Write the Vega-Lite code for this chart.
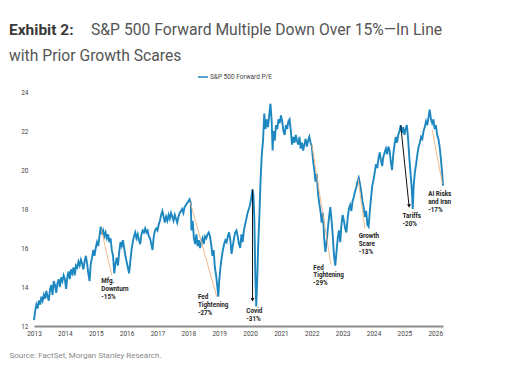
{
  "$schema": "https://vega.github.io/schema/vega-lite/v6.json",
  "width": 409,
  "height": 234,
  "autosize": {"type": "none"},
  "padding": {"left": 34, "top": 92, "right": 77, "bottom": 62},
  "background": "white",
  "config": {"view": {"stroke": null}, "font": "Roboto", "axis": {"labelOverlap": false, "labelFlush": false}},
  "title": {
    "text": "Exhibit 2:",
    "subtitle": ["\u2800\u00a0\u00a0\u00a0\u00a0\u00a0\u00a0\u00a0\u00a0\u00a0\u00a0\u00a0\u00a0\u00a0\u00a0\u00a0\u00a0\u00a0\u00a0S&P 500 Forward Multiple Down Over 15%\u2014In Line", "with Prior Growth Scares"],
    "anchor": "start",
    "frame": "group",
    "dx": -25,
    "offset": 6,
    "font": "Roboto",
    "fontSize": 15.5,
    "fontWeight": "bold",
    "color": "#3a3a3a",
    "subtitleFont": "Roboto",
    "subtitleFontSize": 15.7,
    "subtitleFontWeight": "normal",
    "subtitleColor": "#555555",
    "subtitleLineHeight": 26,
    "subtitlePadding": -15.5
  },
  "datasets": {
    "pe": [
      {"t":2013.00,"v":12.3},{"t":2013.04,"v":12.8},{"t":2013.08,"v":13.1},{"t":2013.12,"v":12.9},{"t":2013.16,"v":13.3},{"t":2013.20,"v":13.1},{"t":2013.24,"v":13.5},{"t":2013.28,"v":13.3},{"t":2013.32,"v":13.6},{"t":2013.36,"v":13.4},{"t":2013.40,"v":13.8},{"t":2013.44,"v":13.5},{"t":2013.48,"v":13.3},{"t":2013.52,"v":13.9},{"t":2013.56,"v":14.1},{"t":2013.60,"v":13.6},{"t":2013.64,"v":14.3},{"t":2013.68,"v":14.1},{"t":2013.72,"v":13.7},{"t":2013.76,"v":14.2},{"t":2013.80,"v":14.4},{"t":2013.84,"v":14.0},{"t":2013.88,"v":14.5},{"t":2013.92,"v":14.3},{"t":2013.96,"v":14.6},
      {"t":2014.00,"v":14.4},{"t":2014.04,"v":13.9},{"t":2014.08,"v":14.5},{"t":2014.12,"v":14.8},{"t":2014.16,"v":14.4},{"t":2014.20,"v":14.9},{"t":2014.24,"v":14.7},{"t":2014.28,"v":15.0},{"t":2014.32,"v":14.6},{"t":2014.36,"v":15.1},{"t":2014.40,"v":15.0},{"t":2014.44,"v":15.3},{"t":2014.48,"v":15.1},{"t":2014.52,"v":15.4},{"t":2014.56,"v":15.2},{"t":2014.60,"v":14.9},{"t":2014.64,"v":15.3},{"t":2014.68,"v":15.6},{"t":2014.72,"v":15.2},{"t":2014.76,"v":14.7},{"t":2014.80,"v":14.3},{"t":2014.84,"v":15.2},{"t":2014.88,"v":15.5},{"t":2014.92,"v":15.9},{"t":2014.96,"v":15.6},
      {"t":2015.00,"v":16.0},{"t":2015.04,"v":16.3},{"t":2015.08,"v":16.1},{"t":2015.12,"v":16.6},{"t":2015.16,"v":17.1},{"t":2015.20,"v":16.7},{"t":2015.24,"v":16.9},{"t":2015.28,"v":16.6},{"t":2015.32,"v":16.8},{"t":2015.36,"v":16.5},{"t":2015.40,"v":16.7},{"t":2015.44,"v":16.3},{"t":2015.48,"v":16.5},{"t":2015.52,"v":15.9},{"t":2015.56,"v":15.6},{"t":2015.60,"v":14.7},{"t":2015.64,"v":15.2},{"t":2015.68,"v":15.5},{"t":2015.72,"v":15.1},{"t":2015.76,"v":15.8},{"t":2015.80,"v":16.3},{"t":2015.84,"v":16.1},{"t":2015.88,"v":16.4},{"t":2015.92,"v":16.0},{"t":2015.96,"v":15.6},
      {"t":2016.00,"v":15.3},{"t":2016.04,"v":15.0},{"t":2016.08,"v":14.7},{"t":2016.12,"v":15.3},{"t":2016.16,"v":15.9},{"t":2016.20,"v":16.3},{"t":2016.24,"v":16.6},{"t":2016.28,"v":16.8},{"t":2016.32,"v":16.5},{"t":2016.36,"v":16.7},{"t":2016.40,"v":16.4},{"t":2016.44,"v":16.2},{"t":2016.48,"v":16.7},{"t":2016.52,"v":16.9},{"t":2016.56,"v":16.8},{"t":2016.60,"v":17.0},{"t":2016.64,"v":16.8},{"t":2016.68,"v":16.9},{"t":2016.72,"v":16.6},{"t":2016.76,"v":16.5},{"t":2016.80,"v":16.2},{"t":2016.84,"v":15.9},{"t":2016.88,"v":16.6},{"t":2016.92,"v":16.9},{"t":2016.96,"v":17.0},
      {"t":2017.00,"v":16.9},{"t":2017.04,"v":17.2},{"t":2017.08,"v":17.4},{"t":2017.12,"v":17.7},{"t":2017.16,"v":17.9},{"t":2017.20,"v":17.6},{"t":2017.24,"v":17.3},{"t":2017.28,"v":17.6},{"t":2017.32,"v":17.4},{"t":2017.36,"v":17.7},{"t":2017.40,"v":17.5},{"t":2017.44,"v":17.8},{"t":2017.48,"v":17.6},{"t":2017.52,"v":17.4},{"t":2017.56,"v":17.7},{"t":2017.60,"v":17.5},{"t":2017.64,"v":17.3},{"t":2017.68,"v":17.6},{"t":2017.72,"v":17.8},{"t":2017.76,"v":17.9},{"t":2017.80,"v":18.0},{"t":2017.84,"v":17.8},{"t":2017.88,"v":18.1},{"t":2017.92,"v":18.2},{"t":2017.96,"v":18.3},
      {"t":2018.00,"v":18.4},{"t":2018.04,"v":18.5},{"t":2018.08,"v":18.3},{"t":2018.10,"v":16.9},{"t":2018.14,"v":17.4},{"t":2018.18,"v":16.5},{"t":2018.22,"v":16.2},{"t":2018.26,"v":16.7},{"t":2018.30,"v":16.1},{"t":2018.34,"v":16.4},{"t":2018.38,"v":16.0},{"t":2018.42,"v":16.3},{"t":2018.46,"v":16.5},{"t":2018.50,"v":16.2},{"t":2018.54,"v":16.6},{"t":2018.58,"v":16.5},{"t":2018.62,"v":16.7},{"t":2018.66,"v":16.8},{"t":2018.70,"v":16.6},{"t":2018.74,"v":16.2},{"t":2018.78,"v":15.6},{"t":2018.82,"v":15.9},{"t":2018.86,"v":15.0},{"t":2018.90,"v":14.6},{"t":2018.94,"v":14.0},{"t":2018.97,"v":13.5},
      {"t":2019.00,"v":14.3},{"t":2019.04,"v":15.0},{"t":2019.08,"v":15.5},{"t":2019.12,"v":15.9},{"t":2019.16,"v":16.2},{"t":2019.20,"v":16.4},{"t":2019.24,"v":16.3},{"t":2019.28,"v":16.6},{"t":2019.32,"v":16.8},{"t":2019.36,"v":16.4},{"t":2019.40,"v":15.7},{"t":2019.44,"v":16.1},{"t":2019.48,"v":16.5},{"t":2019.52,"v":16.8},{"t":2019.56,"v":16.9},{"t":2019.60,"v":16.6},{"t":2019.64,"v":16.2},{"t":2019.68,"v":16.0},{"t":2019.72,"v":16.7},{"t":2019.76,"v":16.3},{"t":2019.80,"v":16.9},{"t":2019.84,"v":17.2},{"t":2019.88,"v":17.5},{"t":2019.92,"v":17.8},{"t":2019.96,"v":18.0},
      {"t":2020.00,"v":18.2},{"t":2020.04,"v":18.6},{"t":2020.08,"v":19.0},{"t":2020.11,"v":18.7},{"t":2020.14,"v":17.4},{"t":2020.17,"v":14.5},{"t":2020.20,"v":13.0},{"t":2020.23,"v":14.3},{"t":2020.26,"v":16.0},{"t":2020.30,"v":17.6},{"t":2020.34,"v":19.5},{"t":2020.38,"v":20.8},{"t":2020.42,"v":21.5},{"t":2020.46,"v":22.9},{"t":2020.50,"v":22.1},{"t":2020.54,"v":22.6},{"t":2020.58,"v":22.2},{"t":2020.62,"v":22.8},{"t":2020.66,"v":23.4},{"t":2020.70,"v":22.5},{"t":2020.73,"v":21.0},{"t":2020.76,"v":22.0},{"t":2020.80,"v":21.5},{"t":2020.84,"v":22.3},{"t":2020.88,"v":22.1},{"t":2020.92,"v":22.6},{"t":2020.96,"v":22.4},
      {"t":2021.00,"v":22.8},{"t":2021.04,"v":22.5},{"t":2021.08,"v":22.0},{"t":2021.12,"v":21.8},{"t":2021.16,"v":22.3},{"t":2021.20,"v":22.1},{"t":2021.24,"v":22.5},{"t":2021.28,"v":22.6},{"t":2021.32,"v":22.0},{"t":2021.36,"v":21.3},{"t":2021.40,"v":21.7},{"t":2021.44,"v":21.4},{"t":2021.48,"v":21.8},{"t":2021.52,"v":21.5},{"t":2021.56,"v":21.3},{"t":2021.60,"v":21.7},{"t":2021.64,"v":21.1},{"t":2021.68,"v":21.4},{"t":2021.72,"v":21.0},{"t":2021.76,"v":21.3},{"t":2021.80,"v":21.6},{"t":2021.84,"v":21.2},{"t":2021.88,"v":21.5},{"t":2021.92,"v":21.7},{"t":2021.96,"v":21.4},
      {"t":2022.00,"v":21.2},{"t":2022.04,"v":20.5},{"t":2022.08,"v":20.0},{"t":2022.12,"v":19.4},{"t":2022.16,"v":19.8},{"t":2022.20,"v":18.8},{"t":2022.24,"v":18.3},{"t":2022.28,"v":17.9},{"t":2022.32,"v":17.3},{"t":2022.36,"v":17.8},{"t":2022.40,"v":16.5},{"t":2022.44,"v":15.8},{"t":2022.48,"v":16.3},{"t":2022.52,"v":17.0},{"t":2022.56,"v":17.6},{"t":2022.60,"v":18.1},{"t":2022.64,"v":17.4},{"t":2022.68,"v":16.6},{"t":2022.72,"v":15.6},{"t":2022.76,"v":15.1},{"t":2022.80,"v":15.8},{"t":2022.84,"v":16.5},{"t":2022.88,"v":16.9},{"t":2022.92,"v":16.3},{"t":2022.96,"v":17.2},
      {"t":2023.00,"v":17.7},{"t":2023.04,"v":17.4},{"t":2023.08,"v":17.0},{"t":2023.12,"v":16.8},{"t":2023.16,"v":17.5},{"t":2023.20,"v":18.0},{"t":2023.24,"v":18.2},{"t":2023.28,"v":17.9},{"t":2023.32,"v":18.4},{"t":2023.36,"v":18.6},{"t":2023.40,"v":18.9},{"t":2023.44,"v":19.1},{"t":2023.48,"v":19.4},{"t":2023.52,"v":19.6},{"t":2023.56,"v":19.3},{"t":2023.60,"v":18.9},{"t":2023.64,"v":18.4},{"t":2023.68,"v":18.1},{"t":2023.72,"v":17.6},{"t":2023.76,"v":17.9},{"t":2023.80,"v":17.2},{"t":2023.84,"v":17.1},{"t":2023.88,"v":17.9},{"t":2023.92,"v":18.6},{"t":2023.96,"v":19.2},
      {"t":2024.00,"v":19.5},{"t":2024.04,"v":19.9},{"t":2024.08,"v":20.3},{"t":2024.12,"v":20.1},{"t":2024.16,"v":20.6},{"t":2024.20,"v":20.9},{"t":2024.24,"v":20.5},{"t":2024.28,"v":20.2},{"t":2024.32,"v":20.7},{"t":2024.36,"v":20.9},{"t":2024.40,"v":21.1},{"t":2024.44,"v":20.8},{"t":2024.48,"v":21.2},{"t":2024.52,"v":21.0},{"t":2024.56,"v":20.4},{"t":2024.60,"v":20.0},{"t":2024.64,"v":20.8},{"t":2024.68,"v":21.3},{"t":2024.72,"v":21.7},{"t":2024.76,"v":21.4},{"t":2024.80,"v":21.8},{"t":2024.84,"v":22.0},{"t":2024.88,"v":22.3},{"t":2024.92,"v":21.9},{"t":2024.96,"v":22.2},
      {"t":2025.00,"v":21.8},{"t":2025.04,"v":22.1},{"t":2025.08,"v":22.3},{"t":2025.12,"v":21.6},{"t":2025.16,"v":20.6},{"t":2025.20,"v":19.8},{"t":2025.24,"v":19.0},{"t":2025.27,"v":18.0},{"t":2025.30,"v":19.2},{"t":2025.34,"v":19.9},{"t":2025.38,"v":20.3},{"t":2025.42,"v":20.8},{"t":2025.46,"v":21.2},{"t":2025.50,"v":21.4},{"t":2025.54,"v":21.7},{"t":2025.58,"v":21.6},{"t":2025.62,"v":22.0},{"t":2025.66,"v":22.2},{"t":2025.70,"v":22.5},{"t":2025.74,"v":22.3},{"t":2025.78,"v":22.7},{"t":2025.82,"v":23.1},{"t":2025.86,"v":22.6},{"t":2025.90,"v":22.4},{"t":2025.94,"v":22.6},{"t":2025.98,"v":22.1},
      {"t":2026.02,"v":22.3},{"t":2026.06,"v":21.8},{"t":2026.10,"v":21.6},{"t":2026.14,"v":21.2},{"t":2026.18,"v":20.6},{"t":2026.22,"v":19.9},{"t":2026.25,"v":19.2}
    ],
    "drops": [
      {"t":2015.18,"v":16.95,"t2":2015.52,"v2":14.6},
      {"t":2018.06,"v":18.35,"t2":2018.92,"v2":13.5},
      {"t":2022.00,"v":21.3,"t2":2022.62,"v2":15.15},
      {"t":2023.50,"v":19.55,"t2":2023.72,"v2":17.0},
      {"t":2025.90,"v":22.05,"t2":2026.23,"v2":19.3}
    ],
    "arrows": [
      {"t":2020.08,"v":19.0,"t2":2020.08,"v2":13.35},
      {"t":2024.88,"v":22.3,"t2":2025.15,"v2":18.15}
    ],
    "labels": [
      {"t":2015.18,"v":14.46,"label":"Mfg.\nDownturn\n-15%"},
      {"t":2018.31,"v":13.64,"label":"Fed\nTightening\n-27%"},
      {"t":2019.88,"v":12.92,"label":"Covid\n-31%"},
      {"t":2022.05,"v":15.15,"label":"Fed\nTightening\n-29%"},
      {"t":2023.52,"v":16.77,"label":"Growth\nScare\n-13%"},
      {"t":2024.94,"v":17.77,"label":"Tariffs\n-20%"},
      {"t":2025.77,"v":18.92,"label":"AI Risks\nand Iran\n-17%"}
    ]
  },
  "layer": [
    {
      "data": {"name": "pe"},
      "transform": [{"calculate": "'S&P 500 Forward P/E'", "as": "series"}],
      "mark": {"type": "line", "strokeWidth": 1.9, "strokeJoin": "miter"},
      "encoding": {
        "x": {
          "field": "t", "type": "quantitative",
          "scale": {"domain": [2013, 2026.25], "nice": false, "zero": false},
          "axis": {
            "values": [2013,2014,2015,2016,2017,2018,2019,2020,2021,2022,2023,2024,2025,2026],
            "tickCount": 40,
            "format": "d", "grid": false, "ticks": false,
            "domainColor": "#8c8c8c", "domainWidth": 2,
            "labelFontSize": 6.5, "labelColor": "#444444", "labelPadding": 4,
            "labelFlush": false, "labelOverlap": false,
            "title": "Source: FactSet, Morgan Stanley Research.",
            "titleAnchor": "start", "titleX": -25, "titleY": 29, "titleBaseline": "middle",
            "titleFontSize": 8, "titleFontWeight": "normal", "titleColor": "#8a8a8a"
          }
        },
        "y": {
          "field": "v", "type": "quantitative",
          "scale": {"domain": [12, 24], "nice": false, "zero": false},
          "axis": {
            "values": [12,14,16,18,20,22,24],
            "tickCount": 40,
            "format": "d",
            "grid": false, "ticks": false, "domain": false, "labelOverlap": false,
            "labelFontSize": 6.5, "labelColor": "#444444", "labelPadding": 6,
            "title": null
          }
        },
        "color": {
          "field": "series", "type": "nominal",
          "scale": {"range": ["#1d87bf"]},
          "legend": {
            "orient": "none", "legendX": 163, "legendY": -21, "title": null,
            "symbolType": "stroke", "symbolSize": 100, "symbolStrokeWidth": 1.5,
            "labelFontSize": 6.5, "labelColor": "#444444", "labelOffset": 1
          }
        }
      }
    },
    {
      "data": {"name": "drops"},
      "mark": {"type": "rule", "color": "#f2b27e", "strokeWidth": 0.9},
      "encoding": {
        "x": {"field": "t", "type": "quantitative"},
        "y": {"field": "v", "type": "quantitative"},
        "x2": {"field": "t2"},
        "y2": {"field": "v2"}
      }
    },
    {
      "data": {"name": "arrows"},
      "mark": {"type": "rule", "color": "#111111", "strokeWidth": 1},
      "encoding": {
        "x": {"field": "t", "type": "quantitative"},
        "y": {"field": "v", "type": "quantitative"},
        "x2": {"field": "t2"},
        "y2": {"field": "v2"}
      }
    },
    {
      "data": {"name": "arrows"},
      "mark": {"type": "point", "shape": "triangle-down", "filled": true, "color": "#111111", "size": 16, "opacity": 1},
      "encoding": {
        "x": {"field": "t2", "type": "quantitative"},
        "y": {"field": "v2", "type": "quantitative"}
      }
    },
    {
      "data": {"name": "labels"},
      "mark": {"type": "text", "align": "left", "baseline": "top", "lineBreak": "\n", "lineHeight": 7.8, "fontSize": 6.3, "fontWeight": "bold", "color": "#222222"},
      "encoding": {
        "x": {"field": "t", "type": "quantitative"},
        "y": {"field": "v", "type": "quantitative"},
        "text": {"field": "label", "type": "nominal"}
      }
    }
  ]
}
